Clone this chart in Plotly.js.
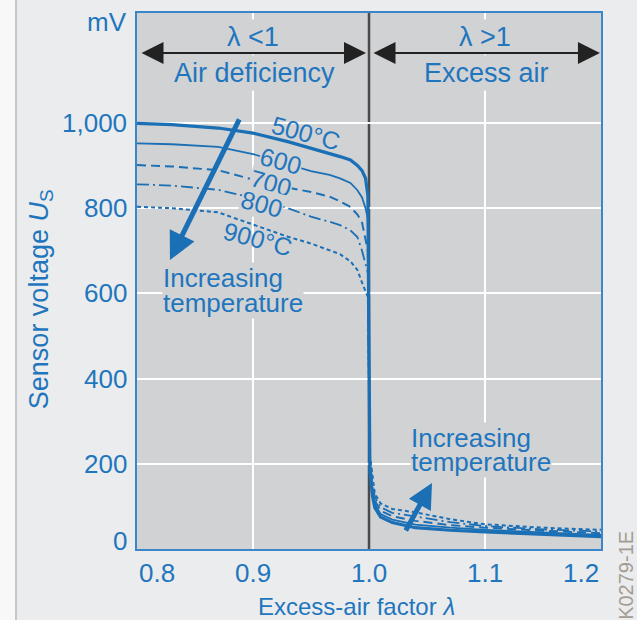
<!DOCTYPE html>
<html>
<head>
<meta charset="utf-8">
<script src="https://cdn.plot.ly/plotly-3.0.1.min.js"></script>
<style>
  html, body { margin: 0; padding: 0; background: #ffffff; }
  #chart { width: 637px; height: 620px; }
</style>
</head>
<body>
<div id="chart"></div>
<script>
// Excess-air factor (lambda) sample points
const lambda = [0.80, 0.83, 0.87, 0.90, 0.93, 0.95, 0.966, 0.975, 0.984, 0.990, 0.994, 0.997, 0.999, 1.0008, 1.003, 1.005, 1.01, 1.02, 1.04, 1.07, 1.10, 1.15, 1.20];
// Sensor voltage (mV) per temperature
const v500 = [999, 996, 988, 976, 956, 941, 929, 921, 913, 900, 888, 870, 830, 180, 125, 97, 75, 62, 50, 44, 40, 34, 29];
const v600 = [952, 950, 944, 927, 903, 887, 878, 870, 859, 842, 825, 800, 775, 190, 135, 105, 82, 69, 57, 50, 45, 39, 33];
const v700 = [901, 898, 889, 867, 848, 838, 827, 816, 803, 785, 766, 728, 700, 200, 145, 113, 90, 77, 66, 56, 50, 43, 37];
const v800 = [856, 853, 843, 824, 800, 780, 768, 760, 748, 732, 700, 670, 648, 210, 155, 122, 98, 85, 76, 63, 54, 46, 41];
const v900 = [803, 800, 790, 762, 733, 717, 702, 692, 675, 655, 625, 603, 592, 220, 165, 130, 107, 94, 86, 70, 58, 50, 45];

const tempLabels = ['500°C', '600', '700', '800', '900°C'];
const xTickVals = [0.8, 0.9, 1.0, 1.1, 1.2];
const xTickText = ['0.8', '0.9', '1.0', '1.1', '1.2'];
const yTickVals = [0, 200, 400, 600, 800, 1000];
const yTickText = ['0', '200', '400', '600', '800', '1,000'];

const BLUE = '#1b6fb5';
const TXT = '#1f76bd';
const PLOTBG = '#d1d2d4';
const FONT = 'Liberation Sans, Arial, Helvetica, sans-serif';

const series = [
  {y: v500, width: 3.2, dash: 'solid'},
  {y: v600, width: 1.8, dash: 'solid'},
  {y: v700, width: 2.0, dash: '9px,5px'},
  {y: v800, width: 1.8, dash: '12px,4px,2px,4px'},
  {y: v900, width: 2.0, dash: '4px,3px'}
];

const traces = series.map((s, i) => ({
  x: lambda, y: s.y, type: 'scatter', mode: 'lines', name: tempLabels[i],
  line: {color: BLUE, width: s.width, dash: s.dash, shape: 'linear'},
  hoverinfo: 'skip', showlegend: false
}));

const ann = [];
// tick labels
xTickVals.forEach((v, i) => {
  const last = i === xTickVals.length - 1;
  ann.push({x: v, y: 0, xref: 'x', yref: 'paper', text: xTickText[i], showarrow: false,
    xanchor: i === 0 ? 'left' : (last ? 'right' : 'center'), yanchor: 'middle', yshift: -24,
    font: {family: FONT, size: 26, color: TXT}});
});
yTickVals.forEach((v, i) => {
  ann.push({x: 0, y: v, xref: 'paper', yref: 'y', text: yTickText[i], showarrow: false,
    xanchor: 'right', yanchor: 'middle', xshift: -8, yshift: v === 0 ? 8 : 0,
    font: {family: FONT, size: 26, color: TXT}});
});
// axis titles
ann.push({x: -0.207, y: 0.466, xref: 'paper', yref: 'paper', text: 'Sensor voltage <i>U</i><sub>S</sub>',
  textangle: -90, showarrow: false, xanchor: 'center', yanchor: 'middle',
  font: {family: FONT, size: 27, color: TXT}});
ann.push({x: -0.0647, y: 0.983, xref: 'paper', yref: 'paper', text: 'mV', showarrow: false,
  xanchor: 'center', yanchor: 'middle', font: {family: FONT, size: 26, color: TXT}});
ann.push({x: 0.474, y: -0.108, xref: 'paper', yref: 'paper', text: 'Excess-air factor <i>λ</i>', showarrow: false,
  xanchor: 'center', yanchor: 'middle', font: {family: FONT, size: 24, color: TXT}});
ann.push({x: 1.054, y: -0.05, xref: 'paper', yref: 'paper', text: 'K0279-1E', textangle: -90, showarrow: false,
  xanchor: 'center', yanchor: 'middle', font: {family: FONT, size: 20, color: '#a39c92'}});

// region labels
const topFont = {family: FONT, size: 27, color: TXT};
ann.push({x: 0.9, y: 1202, text: 'λ &lt;1', showarrow: false, font: topFont, bgcolor: PLOTBG, borderpad: 2});
ann.push({x: 1.1, y: 1202, text: 'λ &gt;1', showarrow: false, font: topFont, bgcolor: PLOTBG, borderpad: 2});
ann.push({x: 0.9017, y: 1117, text: 'Air deficiency', showarrow: false, font: topFont, bgcolor: PLOTBG, borderpad: 2});
ann.push({x: 1.1009, y: 1117, text: 'Excess air', showarrow: false, font: topFont, bgcolor: PLOTBG, borderpad: 2});
// double arrows
[[0.8026, 0.9974], [1.0026, 1.1991]].forEach(([a, b]) => {
  ann.push({x: b, y: 1164, ax: a, ay: 1164, axref: 'x', ayref: 'y', text: '', showarrow: true,
    arrowside: 'end+start', arrowhead: 2, arrowsize: 2.2, arrowwidth: 2, arrowcolor: '#222222', standoff: 0, startstandoff: 0});
});

// temperature labels
const tempPos = [[0.9457, 976, false], [0.9241, 911, true], [0.9155, 859, true], [0.9078, 810, true], [0.9043, 728, false]];
tempPos.forEach(([x, y, bg], i) => {
  const a = {x: x, y: y, text: tempLabels[i], showarrow: false, textangle: 15,
    font: {family: FONT, size: 25, color: TXT}, borderpad: 0};
  if (bg) a.bgcolor = PLOTBG;
  ann.push(a);
});

// Increasing temperature labels (second line first so the first line's box sits on top)
const incFont = {family: FONT, size: 26, color: TXT};
ann.push({x: 0.8216, y: 577, text: 'temperature', xanchor: 'left', showarrow: false, font: incFont, bgcolor: PLOTBG, borderpad: 0});
ann.push({x: 0.8216, y: 636, text: 'Increasing', xanchor: 'left', showarrow: false, font: incFont, bgcolor: PLOTBG, borderpad: 0});
ann.push({x: 1.0353, y: 204, text: 'temperature', xanchor: 'left', showarrow: false, font: incFont, bgcolor: PLOTBG, borderpad: 0});
ann.push({x: 1.0353, y: 260, text: 'Increasing', xanchor: 'left', showarrow: false, font: incFont, bgcolor: PLOTBG, borderpad: 0});

// thick trend arrows
ann.push({x: 0.8284, y: 678, ax: 0.8888, ay: 1012, axref: 'x', ayref: 'y', text: '', showarrow: true,
  arrowhead: 2, arrowsize: 1.1, arrowwidth: 5, arrowcolor: BLUE, standoff: 0});
ann.push({x: 1.0543, y: 155, ax: 1.0310, ay: 40, axref: 'x', ayref: 'y', text: '', showarrow: true,
  arrowhead: 2, arrowsize: 1.0, arrowwidth: 5, arrowcolor: BLUE, standoff: 0});

const layout = {
  width: 637, height: 620,
  margin: {l: 137, r: 36, t: 13, b: 71, pad: 0},
  paper_bgcolor: '#ebeced', plot_bgcolor: PLOTBG,
  font: {family: FONT, color: TXT},
  xaxis: {range: [0.8, 1.2], tickvals: xTickVals.filter(v => v !== 1.0), showticklabels: false, ticks: '',
    showgrid: true, gridcolor: '#ffffff', gridwidth: 2, zeroline: false,
    showline: true, mirror: true, linecolor: '#3a86c8', linewidth: 2, fixedrange: true},
  yaxis: {range: [0, 1258], tickvals: yTickVals, showticklabels: false, ticks: '',
    showgrid: true, gridcolor: '#ffffff', gridwidth: 2, zeroline: false,
    showline: true, mirror: true, linecolor: '#3a86c8', linewidth: 2, fixedrange: true},
  shapes: [
    {type: 'line', xref: 'x', yref: 'paper', x0: 1.0, x1: 1.0, y0: 0, y1: 1,
      line: {color: '#4a4a4a', width: 2.5}, layer: 'between'},
    {type: 'rect', xref: 'paper', yref: 'paper', x0: -0.31, x1: -0.2608, y0: -0.15, y1: 1.05,
      fillcolor: '#f8f8f8', line: {width: 0}},
    {type: 'line', xref: 'paper', yref: 'paper', x0: -0.2608, x1: -0.2608, y0: -0.15, y1: 1.05,
      line: {color: '#c6c7c8', width: 2}}
  ],
  annotations: ann
};

Plotly.newPlot('chart', traces, layout, {displayModeBar: false, staticPlot: true});
</script>
</body>
</html>
